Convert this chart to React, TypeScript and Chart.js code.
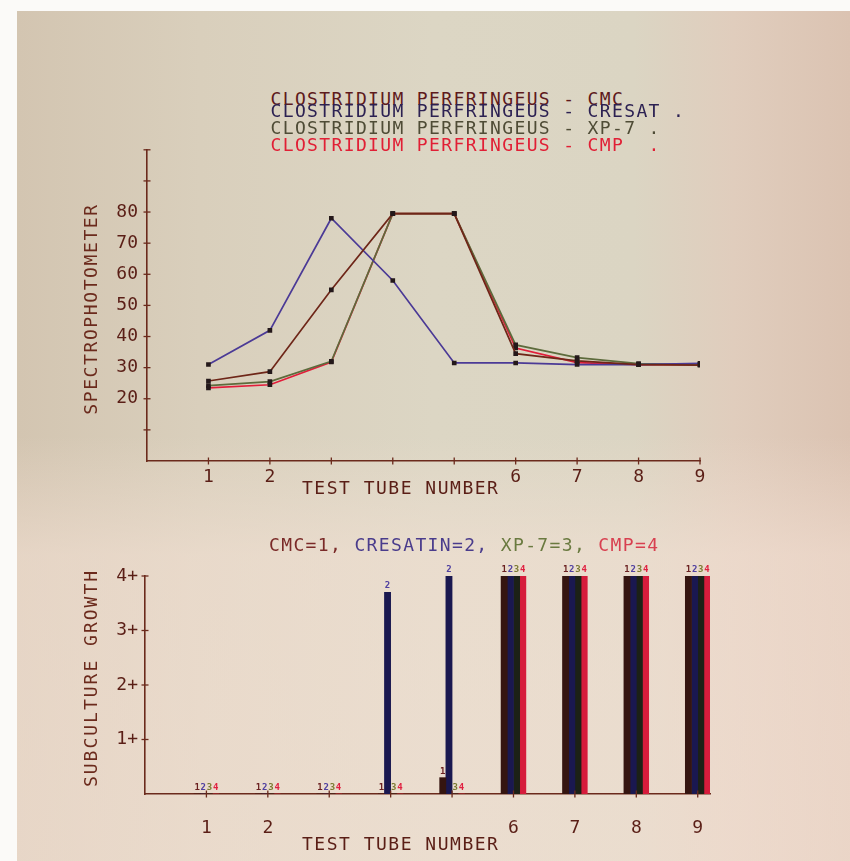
import React, { useEffect, useRef } from 'react';
import { Chart, registerables } from 'chart.js';

Chart.register(...registerables);

// ---------- data ----------
const tubes = [1, 2, 3, 4, 5, 6, 7, 8, 9];
const seriesNames = ['CMC', 'CRESAT', 'XP-7', 'CMP'];
const cmcValues = [25.7, 28.7, 55, 79.5, 79.5, 34.5, 32.2, 31, 30.8];
const cresatValues = [31, 42, 78, 58, 31.5, 31.5, 31, 31, 31.4];
const xp7Values = [24.2, 25.5, 32, 79.5, 79.5, 37.3, 33.2, 31.3, 31];
const cmpValues = [23.5, 24.5, 31.8, 79.5, 79.5, 36.3, 31.6, 31, 31];

const growthCmc = [0, 0, 0, 0, 0.3, 4, 4, 4, 4];
const growthCresatin = [0, 0, 0, 3.7, 4, 4, 4, 4, 4];
const growthXp7 = [0, 0, 0, 0, 0, 4, 4, 4, 4];
const growthCmp = [0, 0, 0, 0, 0, 4, 4, 4, 4];

const xTickValues = [0, 1, 2, 3, 4, 5, 6, 7, 8, 9];
const lineXTickLabels = [1, 2, 6, 7, 8, 9];
const lineYTickLabels = [20, 30, 40, 50, 60, 70, 80];
const lineYTicks = [10, 20, 30, 40, 50, 60, 70, 80, 90, 100];
const barYTickLabels = ['1+', '2+', '3+', '4+'];
const barYTicks = [1, 2, 3, 4];
const barIndexLabels = ['1', '2', '3', '4'];

const titleLines = [
  'CLOSTRIDIUM PERFRINGEUS - CMC',
  'CLOSTRIDIUM PERFRINGEUS - CRESAT .',
  'CLOSTRIDIUM PERFRINGEUS - XP-7 .',
  'CLOSTRIDIUM PERFRINGEUS - CMP  .',
];
const legendParts = ['CMC=1, ', 'CRESATIN=2, ', 'XP-7=3, ', 'CMP=4'];

// ---------- style ----------
const FONT = '"DejaVu Sans Mono", monospace';
const AXIS_COLOR = '#6b2a1c';
const LABEL_COLOR = '#5a1e16';
const lineColors = ['#6e2618', '#4b3a96', '#5d6b3c', '#e21d3a'];
const barColors = ['#351510', '#1a1850', '#1c2116', '#d61c3c'];
const barLabelColors = ['#6a2020', '#5040a0', '#7a7a30', '#e02040'];
const titleColors = ['#5e1a1c', '#2c2152', '#4f4c36', '#e11f35'];
const legendColors = ['#7a2a28', '#4a3c8c', '#6a7a40', '#d84050'];

const tickCrossPlugin = {
  id: 'tickCross',
  afterDraw(chart: any, _args: any, opts: any) {
    const { ctx } = chart;
    const xs = chart.scales.x;
    const ys = chart.scales.y;
    const axisY = ys.getPixelForValue(ys.min);
    const axisX = xs.getPixelForValue(xs.min);
    ctx.save();
    ctx.strokeStyle = opts.color;
    ctx.lineWidth = 1.3;
    for (const v of opts.xTicks) {
      const px = xs.getPixelForValue(v);
      ctx.beginPath();
      ctx.moveTo(px, axisY - 3.5);
      ctx.lineTo(px, axisY + 3.5);
      ctx.stroke();
    }
    for (const v of opts.yTicks) {
      const py = ys.getPixelForValue(v);
      ctx.beginPath();
      ctx.moveTo(axisX - 3.5, py);
      ctx.lineTo(axisX + 3.5, py);
      ctx.stroke();
    }
    ctx.restore();
  },
};

const barLabelPlugin = {
  id: 'barIndexLabels',
  afterDatasetsDraw(chart: any, _args: any, opts: any) {
    const { ctx } = chart;
    ctx.save();
    ctx.font = 'bold 9px ' + FONT;
    ctx.textAlign = 'center';
    ctx.textBaseline = 'alphabetic';
    chart.data.datasets.forEach((_ds: any, i: number) => {
      const meta = chart.getDatasetMeta(i);
      ctx.fillStyle = opts.colors[i];
      meta.data.forEach((el: any) => {
        ctx.fillText(opts.labels[i], el.x, el.y - 4);
      });
    });
    ctx.restore();
  },
};

const tickFont = { family: FONT, size: 18 };
const fixedXTicks = (s: any) => {
  s.ticks = xTickValues.map((v) => ({ value: v }));
};

function LineChart() {
  const ref = useRef<HTMLCanvasElement | null>(null);
  useEffect(() => {
    if (!ref.current) return;
    const all = [cmcValues, cresatValues, xp7Values, cmpValues];
    const chart = new Chart(ref.current, {
      type: 'line',
      data: {
        datasets: all.map((vals, i) => ({
          label: seriesNames[i],
          data: tubes.map((t, j) => ({ x: t, y: vals[j] })),
          borderColor: lineColors[i],
          borderWidth: 1.7,
          pointStyle: 'rect',
          pointRadius: 3.3,
          pointBackgroundColor: '#24181a',
          pointBorderWidth: 0,
          tension: 0,
          fill: false,
        })),
      },
      options: {
        animation: false,
        responsive: false,
        events: [],
        layout: { padding: { top: 19, right: 150, bottom: 0, left: 0 } },
        plugins: {
          legend: { display: false },
          tooltip: { enabled: false },
          tickCross: { xTicks: tubes, yTicks: lineYTicks, color: AXIS_COLOR },
        } as any,
        scales: {
          x: {
            type: 'linear',
            min: 0,
            max: 9,
            grid: { display: false, drawTicks: false },
            border: { color: AXIS_COLOR, width: 1.6 },
            afterBuildTicks: fixedXTicks,
            ticks: {
              padding: 6,
              color: LABEL_COLOR,
              font: tickFont,
              autoSkip: false,
              maxRotation: 0,
              callback: (v: any) => (lineXTickLabels.includes(Number(v)) ? String(v) : ''),
            },
            afterFit: (s: any) => {
              s.height = 49;
            },
          },
          y: {
            type: 'linear',
            min: 0,
            max: 100,
            grid: { display: false, drawTicks: false },
            border: { color: AXIS_COLOR, width: 1.6 },
            ticks: {
              stepSize: 10,
              padding: 9,
              color: LABEL_COLOR,
              font: tickFont,
              autoSkip: false,
              callback: (v: any) => (lineYTickLabels.includes(Number(v)) ? String(v) : ''),
            },
            afterFit: (s: any) => {
              s.width = 147;
            },
          },
        },
      },
      plugins: [tickCrossPlugin],
    } as any);
    return () => chart.destroy();
  }, []);
  return (
    <canvas
      ref={ref}
      width={850}
      height={380}
      style={{ position: 'absolute', left: 0, top: 130, width: 850, height: 380 }}
    />
  );
}

function BarChart() {
  const ref = useRef<HTMLCanvasElement | null>(null);
  useEffect(() => {
    if (!ref.current) return;
    const all = [growthCmc, growthCresatin, growthXp7, growthCmp];
    const chart = new Chart(ref.current, {
      type: 'bar',
      data: {
        datasets: all.map((vals, i) => ({
          label: barIndexLabels[i],
          data: tubes.map((t, j) => ({ x: t, y: vals[j] })),
          backgroundColor: barColors[i],
          borderWidth: 0,
          barThickness: 6.2,
        })),
      },
      options: {
        animation: false,
        responsive: false,
        events: [],
        layout: { padding: { top: 36, right: 140, bottom: 0, left: 0 } },
        plugins: {
          legend: { display: false },
          tooltip: { enabled: false },
          tickCross: { xTicks: tubes, yTicks: barYTicks, color: AXIS_COLOR },
          barIndexLabels: { colors: barLabelColors, labels: barIndexLabels },
        } as any,
        scales: {
          x: {
            type: 'linear',
            min: 0,
            max: 9.2,
            offset: false,
            grid: { display: false, drawTicks: false },
            border: { color: AXIS_COLOR, width: 1.6 },
            afterBuildTicks: fixedXTicks,
            ticks: {
              padding: 24,
              color: LABEL_COLOR,
              font: tickFont,
              autoSkip: false,
              maxRotation: 0,
              callback: (v: any) => (lineXTickLabels.includes(Number(v)) ? String(v) : ''),
            },
            afterFit: (s: any) => {
              s.height = 67;
            },
          },
          y: {
            type: 'linear',
            min: 0,
            max: 4,
            grid: { display: false, drawTicks: false },
            border: { color: AXIS_COLOR, width: 1.6 },
            ticks: {
              stepSize: 1,
              padding: 7,
              color: LABEL_COLOR,
              font: tickFont,
              autoSkip: false,
              callback: (v: any) => {
                const idx = barYTicks.indexOf(Number(v));
                return idx >= 0 ? barYTickLabels[idx] : '';
              },
            },
            afterFit: (s: any) => {
              s.width = 145;
            },
          },
        },
      },
      plugins: [tickCrossPlugin, barLabelPlugin],
    } as any);
    return () => chart.destroy();
  }, []);
  return (
    <canvas
      ref={ref}
      width={850}
      height={321}
      style={{ position: 'absolute', left: 0, top: 540, width: 850, height: 321 }}
    />
  );
}

const textBase: React.CSSProperties = {
  position: 'absolute',
  fontFamily: FONT,
  fontSize: 18,
  lineHeight: '18px',
  whiteSpace: 'pre',
  margin: 0,
};

export default function App() {
  const titleTops = [89.6, 101.9, 118.9, 136.2];
  return (
    <div
      style={{
        position: 'absolute',
        left: 0,
        top: 0,
        width: 850,
        height: 861,
        overflow: 'hidden',
        background: '#fbfaf8',
      }}
    >
      <div
        style={{
          position: 'absolute',
          left: 17,
          top: 11,
          right: 0,
          bottom: 0,
          background:
            'linear-gradient(180deg, rgba(245,226,214,0) 0%, rgba(245,226,214,0) 50%, rgba(245,226,214,0.55) 64%, rgba(245,226,214,0.6) 100%), ' +
            'linear-gradient(90deg, #d3c5b1 0%, #d9cfbc 22%, #dcd6c4 50%, #dbd5c3 74%, #e0cdbd 86%, #dbc3b2 100%)',
        }}
      />
      <LineChart />
      <BarChart />
      {titleLines.map((t, i) => (
        <div
          key={i}
          style={{ ...textBase, left: 270.5, top: titleTops[i], color: titleColors[i], letterSpacing: '1.36px' }}
        >
          {t}
        </div>
      ))}
      <div
        style={{
          ...textBase,
          left: 91,
          top: 309,
          color: AXIS_COLOR,
          letterSpacing: '1.6px',
          transform: 'translate(-50%, -50%) rotate(-90deg)',
        }}
      >
        SPECTROPHOTOMETER
      </div>
      <div style={{ ...textBase, left: 302, top: 479, color: LABEL_COLOR, letterSpacing: '1.5px' }}>
        TEST TUBE NUMBER
      </div>
      <div style={{ ...textBase, left: 269, top: 535.6, letterSpacing: '1.36px' }}>
        {legendParts.map((p, i) => (
          <span key={i} style={{ color: legendColors[i] }}>
            {p}
          </span>
        ))}
      </div>
      <div
        style={{
          ...textBase,
          left: 91,
          top: 677.5,
          color: AXIS_COLOR,
          letterSpacing: '2px',
          transform: 'translate(-50%, -50%) rotate(-90deg)',
        }}
      >
        SUBCULTURE GROWTH
      </div>
      <div style={{ ...textBase, left: 302, top: 834.5, color: LABEL_COLOR, letterSpacing: '1.5px' }}>
        TEST TUBE NUMBER
      </div>
    </div>
  );
}
